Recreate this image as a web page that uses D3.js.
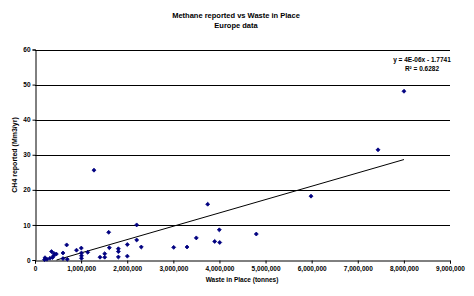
<!DOCTYPE html>
<html>
<head>
<meta charset="utf-8">
<script src="https://cdn.jsdelivr.net/npm/d3@7"></script>
<style>
  body { margin: 0; background: #fff; }
  svg { display: block; }
  text { font-family: "Liberation Sans", Arial, sans-serif; fill: #000; }
</style>
</head>
<body>
<script>
// Methane reported vs Waste in Place - Europe data

const wasteInPlace = [
    206000, 217000, 260000, 325000, 358000, 380000, 405000, 412000, 462000,
    607000, 607000, 687000, 700000, 900000, 1004000, 1008000, 1008000, 1008000,
    1143000, 1279000, 1410000, 1512000, 1512000, 1598000, 1612000, 1808000,
    1808000, 1808000, 2002000, 2002000, 2205000, 2205000, 2305000, 3008000,
    3297000, 3498000, 3745000, 3897000, 3997000, 4006000, 4799000, 5986000,
    7439000, 8002000
]
const methane = [
    0.1, 0.65, 0.2, 0.5, 2.4, 0.7, 1.2, 1.85, 1.7,
    2.0, 0.4, 4.3, 0.2, 2.8, 3.4, 2.0, 1.2, 0.5,
    2.2, 25.6, 0.8, 1.8, 0.8, 7.9, 3.5, 3.2,
    2.4, 0.85, 4.4, 1.1, 10.0, 5.7, 3.7, 3.6,
    3.7, 6.3, 15.9, 5.3, 8.6, 5.0, 7.4, 18.2,
    31.4, 48.1
]

// linear trendline shown on chart
const trendSlope = 3.8e-6
const trendIntercept = -1.7741
const trendLabels = ["y = 4E-06x - 1.7741", "R² = 0.6282"]

const xTicks = d3.range(0, 9000001, 1000000)
const yTicks = [0, 10, 20, 30, 40, 50, 60]
const gridValues = [10, 20, 30, 40, 50, 60]

const titleLines = ["Methane reported vs Waste in Place", "Europe data"]
const xTitle = "Waste in Place (tonnes)"
const yTitle = "CH4 reported (Mm3/yr)"

const width = 474,
    height = 296

const margin = { left: 35, right: 24, top: 49.5, bottom: 36 }

const svg = d3.select("body").append("svg")
    .attr("width", width)
    .attr("height", height)

const x = d3.scaleLinear()
    .domain([0, 9000000])
    .range([margin.left, width - margin.right])

const y = d3.scaleLinear()
    .domain([0, 60])
    .range([height - margin.bottom, margin.top])

// gridlines
svg.append("g")
    .attr("class", "grid")
    .attr("shape-rendering", "crispEdges")
    .selectAll("line")
    .data(gridValues)
    .join("line")
    .attr("x1", x(0))
    .attr("x2", x(9000000))
    .attr("y1", (d) => Math.round(y(d)) + 0.5)
    .attr("y2", (d) => Math.round(y(d)) + 0.51)
    .attr("stroke", "#000")
    .attr("stroke-width", 1)

// y axis
const yAxis = svg.append("g")
    .attr("transform", `translate(${Math.round(x(0)) + 0.5},0)`)
    .call(d3.axisLeft(y).tickValues(yTicks).tickSize(3).tickPadding(2)
        .tickFormat(d3.format("d")))
yAxis.select(".domain").attr("stroke", "#000")
yAxis.selectAll("text")
    .style("font-size", "6.5px")
    .style("font-weight", "bold")

// x axis
const xAxis = svg.append("g")
    .attr("transform", `translate(0,${Math.round(y(0)) + 0.5})`)
    .call(d3.axisBottom(x).tickValues(xTicks).tickSize(3).tickPadding(3)
        .tickFormat((d) => d === 0 ? "0" : d3.format(",")(d)))
xAxis.select(".domain").attr("stroke", "#000")
xAxis.selectAll("text")
    .style("font-size", "6.5px")
    .style("font-weight", "bold")

// trendline, clipped at y = 0
const xStart = Math.max(d3.min(wasteInPlace), -trendIntercept / trendSlope)
const xEnd = d3.max(wasteInPlace)
svg.append("line")
    .attr("x1", x(xStart))
    .attr("y1", y(trendSlope * xStart + trendIntercept))
    .attr("x2", x(xEnd))
    .attr("y2", y(trendSlope * xEnd + trendIntercept))
    .attr("stroke", "#000")
    .attr("stroke-width", 1)

// points
const points = wasteInPlace.map((v, i) => ({ x: v, y: methane[i] }))
const marker = d3.symbolDiamond2 || d3.symbolDiamond
svg.append("g")
    .selectAll("path")
    .data(points)
    .join("path")
    .attr("transform", (d) => `translate(${x(d.x)},${y(d.y)})`)
    .attr("d", d3.symbol(marker, 10))
    .attr("fill", "#000080")
    .attr("stroke", "#000080")
    .attr("stroke-width", 0.8)

// trend label
svg.append("g")
    .selectAll("text")
    .data(trendLabels)
    .join("text")
    .attr("x", 422)
    .attr("y", (d, i) => 62 + i * 9)
    .attr("text-anchor", "middle")
    .style("font-size", "6.5px")
    .style("font-weight", "bold")
    .text((d) => d)

// titles
svg.append("g")
    .selectAll("text")
    .data(titleLines)
    .join("text")
    .attr("x", 236)
    .attr("y", (d, i) => 18 + i * 10)
    .attr("text-anchor", "middle")
    .style("fill", "#000")
    .style("font-size", "7.5px")
    .style("font-weight", "bold")
    .text((d) => d)

svg.append("text")
    .attr("x", 242)
    .attr("y", 282)
    .attr("text-anchor", "middle")
    .style("font-size", "6.5px")
    .style("font-weight", "bold")
    .text(xTitle)

svg.append("text")
    .attr("transform", `translate(17,155) rotate(-90)`)
    .attr("text-anchor", "middle")
    .style("font-size", "7px")
    .style("font-weight", "bold")
    .text(yTitle)
</script>
</body>
</html>
